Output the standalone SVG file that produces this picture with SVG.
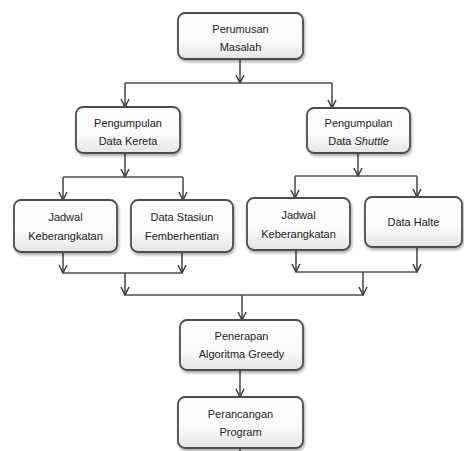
<svg xmlns="http://www.w3.org/2000/svg" width="464" height="451" viewBox="0 0 464 451">
  <defs>
    <linearGradient id="boxFill" x1="0" y1="0" x2="0" y2="1">
      <stop offset="0" stop-color="#ffffff"/>
      <stop offset="0.6" stop-color="#fafafa"/>
      <stop offset="1" stop-color="#e4e4e4"/>
    </linearGradient>
    <filter id="shadow" x="-10%" y="-10%" width="125%" height="135%">
      <feDropShadow dx="1" dy="2" stdDeviation="1.5" flood-color="#000" flood-opacity="0.35"/>
    </filter>
    <marker id="arrow" viewBox="0 0 10 10" refX="9" refY="5" markerWidth="10" markerHeight="10" markerUnits="userSpaceOnUse" orient="auto">
      <path d="M1,1 L9,5 L1,9" fill="none" stroke="#3a3a3a" stroke-width="1.5"/>
    </marker>
  </defs>
  <style>
    .box { fill: url(#boxFill); stroke: #4d4d4d; stroke-width: 1.8; filter: url(#shadow); }
    .label { font-family: "Liberation Sans", Arial, sans-serif; font-size: 11px; fill: #222; text-anchor: middle; }
    .line { fill: none; stroke: #505050; stroke-width: 1.6; }
    .arr { fill: none; stroke: #505050; stroke-width: 1.6; marker-end: url(#arrow); }
  </style>
  <rect width="464" height="451" fill="#ffffff"/>

  <g id="connectors">
    <!-- top split -->
    <line class="arr" x1="240" y1="59" x2="240" y2="83"/>
    <line class="line" x1="125" y1="83" x2="332" y2="83"/>
    <line class="arr" x1="125" y1="83" x2="125" y2="107"/>
    <line class="arr" x1="332" y1="83" x2="332" y2="108"/>
    <!-- train branch -->
    <line class="arr" x1="125" y1="153" x2="125" y2="177"/>
    <line class="line" x1="63" y1="177" x2="183" y2="177"/>
    <line class="arr" x1="63" y1="177" x2="63" y2="200"/>
    <line class="arr" x1="183" y1="177" x2="183" y2="200"/>
    <!-- shuttle branch -->
    <line class="arr" x1="358" y1="153" x2="358" y2="176"/>
    <line class="line" x1="295" y1="176" x2="417" y2="176"/>
    <line class="arr" x1="295" y1="176" x2="295" y2="198"/>
    <line class="arr" x1="417" y1="176" x2="417" y2="197"/>
    <!-- merge left -->
    <line class="arr" x1="63" y1="252" x2="63" y2="273"/>
    <line class="arr" x1="182" y1="252" x2="182" y2="273"/>
    <line class="line" x1="63" y1="273" x2="182" y2="273"/>
    <!-- merge right -->
    <line class="arr" x1="296" y1="250" x2="296" y2="272"/>
    <line class="arr" x1="417" y1="247" x2="417" y2="272"/>
    <line class="line" x1="296" y1="272" x2="417" y2="272"/>
    <!-- final merge -->
    <line class="arr" x1="125" y1="273" x2="125" y2="295"/>
    <line class="arr" x1="363" y1="272" x2="363" y2="295"/>
    <line class="line" x1="125" y1="295" x2="363" y2="295"/>
    <line class="arr" x1="242" y1="295" x2="242" y2="320"/>
    <line class="arr" x1="240" y1="370" x2="240" y2="397"/>
    <line class="line" x1="240" y1="448" x2="240" y2="451"/>
  </g>

  <g id="perumusan">
    <rect class="box" x="178" y="13" width="125" height="46" rx="7"/>
    <text class="label" x="240.5" y="33">Perumusan</text>
    <text class="label" x="240.5" y="51">Masalah</text>
  </g>

  <g id="data-kereta">
    <rect class="box" x="76" y="107" width="104" height="46" rx="7"/>
    <text class="label" x="128" y="127">Pengumpulan</text>
    <text class="label" x="128" y="145">Data Kereta</text>
  </g>

  <g id="data-shuttle">
    <rect class="box" x="307" y="108" width="103" height="45" rx="7"/>
    <text class="label" x="358.5" y="127">Pengumpulan</text>
    <text class="label" x="358.5" y="145">Data <tspan font-style="italic">Shuttle</tspan></text>
  </g>

  <g id="jadwal-kereta">
    <rect class="box" x="14" y="200" width="103" height="52" rx="7"/>
    <text class="label" x="65.5" y="221">Jadwal</text>
    <text class="label" x="65.5" y="240">Keberangkatan</text>
  </g>

  <g id="stasiun">
    <rect class="box" x="131" y="200" width="102" height="52" rx="7"/>
    <text class="label" x="182" y="221">Data Stasiun</text>
    <text class="label" x="182" y="240">Femberhentian</text>
  </g>

  <g id="jadwal-shuttle">
    <rect class="box" x="247" y="198" width="103" height="52" rx="7"/>
    <text class="label" x="298.5" y="219">Jadwal</text>
    <text class="label" x="298.5" y="238">Keberangkatan</text>
  </g>

  <g id="halte">
    <rect class="box" x="365" y="197" width="97" height="50" rx="7"/>
    <text class="label" x="413.5" y="226">Data Halte</text>
  </g>

  <g id="penerapan">
    <rect class="box" x="180" y="320" width="123" height="50" rx="7"/>
    <text class="label" x="241.5" y="340">Penerapan</text>
    <text class="label" x="241.5" y="358">Algoritma Greedy</text>
  </g>

  <g id="perancangan">
    <rect class="box" x="178" y="397" width="125" height="51" rx="7"/>
    <text class="label" x="240.5" y="418">Perancangan</text>
    <text class="label" x="240.5" y="436">Program</text>
  </g>
</svg>
